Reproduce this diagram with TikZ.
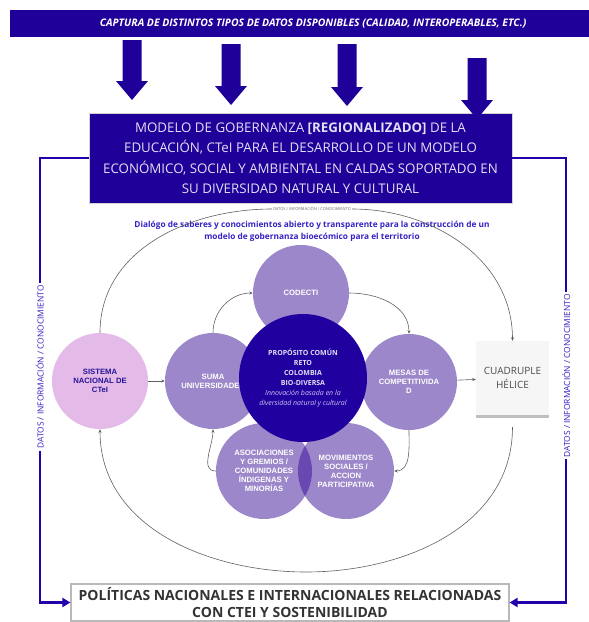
\documentclass[tikz,border=0pt]{standalone}
\usepackage{fontspec}
\setmainfont{Open Sans}
\newfontfamily\arialf{Liberation Sans}
\usetikzlibrary{arrows.meta,positioning,shadows}
\definecolor{darkblue}{RGB}{31,0,153}
\definecolor{linkblue}{RGB}{36,0,170}
\definecolor{centreblue}{RGB}{33,0,160}
\definecolor{lilac}{RGB}{155,135,201}
\definecolor{pinklilac}{RGB}{228,186,233}
\definecolor{lensviolet}{RGB}{106,72,178}
\definecolor{dialogblue}{RGB}{52,34,196}
\definecolor{boxtext}{RGB}{224,224,244}
\definecolor{softtext}{RGB}{205,195,240}
\definecolor{sisblue}{RGB}{40,20,150}
\newcommand{\drawDownArrow}[3]{
    \fill[darkblue] (#1-9.5,#2) -- (#1+9.5,#2) -- (#1+9.5,#3-19) -- (#1+16,#3-19) -- (#1,#3) -- (#1-16,#3-19) -- (#1-9.5,#3-19) -- cycle
}
\tikzset{
  banner/.style={fill=darkblue, text=white, minimum width=606, minimum height=27, inner sep=0,
    font=\bfseries\itshape\fontsize{10.4}{12}\selectfont},
  mainbox/.style={fill=darkblue, draw=gray!35, text=boxtext, minimum width=423, minimum height=90,
    align=center, inner sep=0, font=\fontsize{13.3}{20.5}\selectfont},
  polbox/.style={draw=gray!55, line width=1.2, fill=white, minimum width=438, minimum height=37,
    align=center, inner sep=0, text=black!80, font=\bfseries\fontsize{14}{17}\selectfont},
  circ/.style={circle, minimum size=96, inner sep=0, fill=lilac, text=white, align=center,
    font=\arialf\bfseries\fontsize{7.7}{9}\selectfont},
  cuadbox/.style={fill=gray!7, minimum width=73, minimum height=74, align=center, text=black!70,
    font=\fontsize{10}{14}\selectfont, drop shadow={shadow xshift=0pt, shadow yshift=-3pt, opacity=0.5}},
  bluelink/.style={draw=linkblue, line width=2.2, -{Triangle[length=8,width=9]}},
  grayarrow/.style={draw=gray!75!black, line width=0.6, -{Stealth[length=3.5,width=3]}},
  sidelabel/.style={fill=white, text=dialogblue, inner sep=2, rotate=90, font=\fontsize{8.4}{9}\selectfont},
  tinylabel/.style={fill=white, text=gray!80!black, inner sep=1, font=\fontsize{4}{5}\selectfont}
}
\begin{document}
\begin{tikzpicture}[x=1pt,y=-1pt]
    \useasboundingbox (0,0) rectangle (589,622);

    % top banner and the four block arrows
    \node[banner] (captura) at (313,23.5) {CAPTURA DE DISTINTOS TIPOS DE DATOS DISPONIBLES (CALIDAD, INTEROPERABLES, ETC.)};
    \node[mainbox] (modelo) at (300.5,158) {MODELO DE GOBERNANZA \textbf{[REGIONALIZADO]} DE LA\\
        EDUCACIÓN, CTeI PARA EL DESARROLLO DE UN MODELO\\
        ECONÓMICO, SOCIAL Y AMBIENTAL EN CALDAS SOPORTADO EN\\
        SU DIVERSIDAD NATURAL Y CULTURAL};
    \drawDownArrow{132}{40}{100};
    \drawDownArrow{231}{44}{105};
    \drawDownArrow{347}{44}{106};
    \drawDownArrow{477}{58}{119};

    % bottom box and side links
    \node[polbox] (politicas) at (290,602.5) {POLÍTICAS NACIONALES E INTERNACIONALES RELACIONADAS\\CON CTEI Y SOSTENIBILIDAD};
    \draw[bluelink] (modelo.west) -- ++(-49,0) |- (politicas.west)
        node[sidelabel, pos=0.235] {DATOS / INFORMACIÓN / CONOCIMIENTO};
    \draw[bluelink] (modelo.east) -- ++(54,0) |- (politicas.east)
        node[sidelabel, pos=0.245] {DATOS / INFORMACIÓN / CONOCIMIENTO};

    % dialogue text and outer loop label
    \node[text=dialogblue, align=center, font=\bfseries\fontsize{8.3}{12}\selectfont] (dialogo) at (312,231)
        {Dialógo de saberes y conocimientos abierto y transparente para la construcción de un\\
         modelo de gobernanza bioecómico para el territorio};
    \node[tinylabel] (datos) at (312,209) {DATOS / INFORMACIÓN / CONOCIMIENTO};

    % circles
    \node[circ] (codecti) at (301,293) {CODECTI};
    \node[circ, fill=pinklilac, text=sisblue] (sistema) at (100,381) {SISTEMA\\NACIONAL DE\\CTeI};
    \node[circ] (suma) at (213,381) {SUMA\\UNIVERSIDADES};
    \node[circ] (mesas) at (409,382) {MESAS DE\\COMPETITIVIDA\\D};
    \node[circ] (asoc) at (264,471) {ASOCIACIONES\\Y GREMIOS /\\COMUNIDADES\\ÍNDIGENAS Y\\MINORÍAS};
    \node[circ] (movim) at (346,471) {MOVIMIENTOS\\SOCIALES /\\ACCION\\PARTICIPATIVA};
    \begin{scope}
        \clip (asoc.center) circle (48);
        \fill[lensviolet] (movim.center) circle (48);
    \end{scope}
    \node[circle, minimum size=128, inner sep=0, fill=centreblue, text=boxtext, align=center,
        font=\fontsize{7}{10}\selectfont] (proposito) at (303,378)
        {\textbf{PROPÓSITO COMÚN}\\\textbf{RETO}\\\textbf{COLOMBIA}\\\textbf{BIO-DIVERSA}\\
         \textcolor{softtext}{\itshape Innovación basada en la}\\\textcolor{softtext}{\itshape diversidad natural y cultural}};
    \node[cuadbox] (cuadruple) at (512.5,378) {CUADRUPLE\\HÉLICE};
    \coordinate (ellbottom) at (306,572);

    % connectors
    \draw[grayarrow] (sistema) -- (suma);
    \draw[grayarrow] (mesas) -- (cuadruple);
    \draw[grayarrow] (suma.north) to[out=90,in=180] (codecti.west);
    \draw[grayarrow] (codecti.east) to[out=0,in=90] (mesas.north);
    \draw[grayarrow] (mesas.south) to[out=-90,in=0] (movim.east);
    \draw[grayarrow] (asoc.west) to[out=180,in=-90] (suma.south);
    \draw[gray!75!black, line width=0.6] (sistema.north) to[out=90,in=180] (datos.west);
    \draw[grayarrow] (datos.east) to[out=0,in=90] (cuadruple.north);
    \draw[grayarrow] ([yshift=-12pt]cuadruple.south) to[out=-90,in=0] (ellbottom) to[out=180,in=-90] (sistema.south);
\end{tikzpicture}
\end{document}
